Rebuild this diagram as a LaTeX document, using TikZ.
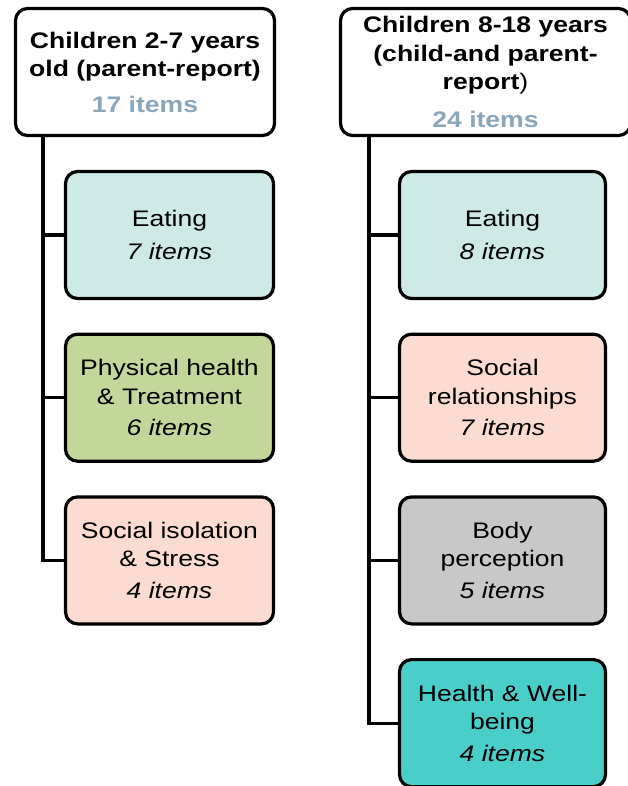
\documentclass[tikz,border=0pt]{standalone}
\usepackage{fontspec}
\setmainfont[FakeStretch=1.18]{Liberation Sans}
\usetikzlibrary{positioning}

\definecolor{itemcol}{RGB}{137,166,186}
\definecolor{eatfill}{RGB}{205,234,230}
\definecolor{physfill}{RGB}{196,215,155}
\definecolor{socfill}{RGB}{252,220,208}
\definecolor{bodyfill}{RGB}{200,200,200}
\definecolor{wellfill}{RGB}{73,206,202}

\begin{document}
\begin{tikzpicture}[x=1pt, y=-1pt,
    hdr/.style={draw=black, line width=3.2pt, rounded corners=12pt, fill=white, minimum height=127pt, align=center, font=\fontsize{22.5}{28.5}\selectfont\bfseries},
    sub/.style={draw=black, line width=3.2pt, rounded corners=12pt, minimum width=208pt, minimum height=127pt, align=center, font=\fontsize{22.5}{28.5}\selectfont},
    link/.style={line width=3.2pt}
  ]
  \useasboundingbox (0,0) rectangle (628,786);

  % Younger children, parent-report
  \node[hdr, minimum width=259pt] (hdrL) at (145,72) {Children 2-7 years\\old (parent-report)\\[7pt]\textcolor{itemcol}{17 items}};
  \node[sub, fill=eatfill] (eatL) at (169.5,235) {Eating\\[4pt]\textit{7 items}};
  \node[sub, fill=physfill, anchor=north] (physL) at ([yshift=-32.5pt]eatL.south) {Physical health\\\& Treatment\\[3pt]\textit{6 items}};
  \node[sub, fill=socfill, anchor=north] (socL) at ([yshift=-32.5pt]physL.south) {Social isolation\\\& Stress\\[3pt]\textit{4 items}};

  % Older children, child- and parent-report
  \node[hdr, minimum width=290pt] (hdrR) at (485.5,72) {Children 8-18 years\\(child-and parent-\\report\mdseries)\\[9pt]\textcolor{itemcol}{24 items}};
  \node[sub, fill=eatfill, minimum width=206pt] (eatR) at (502.5,235) {Eating\\[4pt]\textit{8 items}};
  \node[sub, fill=socfill, minimum width=206pt, anchor=north] (socR) at ([yshift=-32.5pt]eatR.south) {Social\\relationships\\[3pt]\textit{7 items}};
  \node[sub, fill=bodyfill, minimum width=206pt, anchor=north] (bodyR) at ([yshift=-32.5pt]socR.south) {Body\\perception\\[3pt]\textit{5 items}};
  \node[sub, fill=wellfill, minimum width=206pt, anchor=north] (wellR) at ([yshift=-32.5pt]bodyR.south) {Health \& Well-\\being\\[3pt]\textit{4 items}};

  % Tree lines
  \foreach \kid in {eatL, physL, socL}
    \draw[link] ([xshift=29pt]hdrL.south west) |- (\kid.west);
  \foreach \kid in {eatR, socR, bodyR, wellR}
    \draw[link] ([xshift=30pt]hdrR.south west) |- (\kid.west);
\end{tikzpicture}
\end{document}
